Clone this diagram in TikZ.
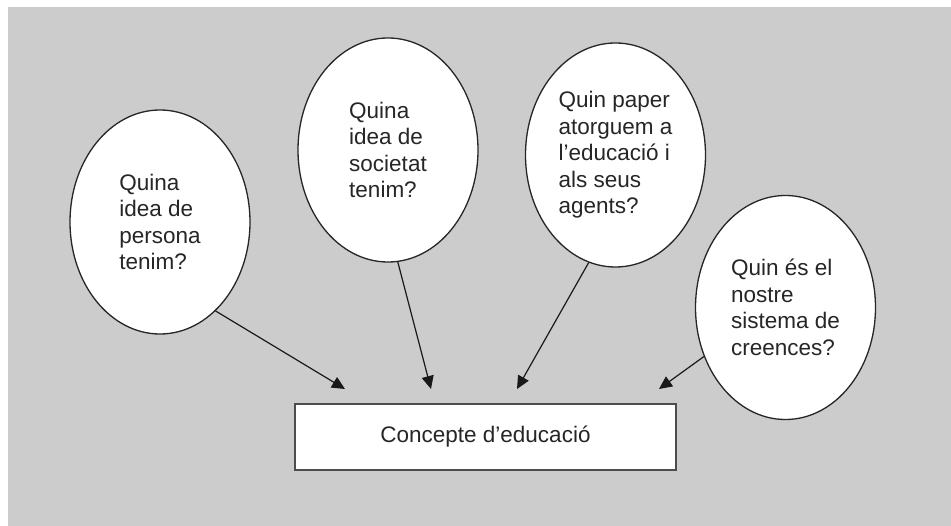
\documentclass[tikz,border=0pt]{standalone}
\usepackage{fontspec}
\setmainfont{Liberation Sans}
\usetikzlibrary{shapes.geometric,arrows.meta}
\colorlet{panel}{black!20}
\colorlet{ink}{black!85}
\tikzset{question/.style={ellipse,draw=black!85,line width=1.3pt,fill=white,minimum width=180pt,minimum height=224pt,inner sep=0pt,align=left,text=ink,font=\fontsize{22.5}{26.5}\selectfont}}
\tikzset{concept/.style={rectangle,draw=black!70,line width=1.5pt,fill=white,minimum width=381pt,minimum height=66pt,inner sep=0pt,text=ink,font=\fontsize{22.5}{26.5}\selectfont}}
\tikzset{feed/.style={-{Triangle[length=13pt,width=12pt]},line width=1.2pt,draw=black!90}}

\begin{document}
\begin{tikzpicture}[x=1pt,y=-1pt]
	    \useasboundingbox (0,0) rectangle (951,526);
	    \fill[white] (0,0) rectangle (951,526);
	    \fill[panel] (8,7) rectangle (951,526);
	    \node[question] (persona) at (160,222) {Quina\\idea de\\persona\\tenim?};
	    \node[question] (societat) at (388,150) {Quina\\idea de\\societat\\tenim?};
	    \node[question] (paper) at (615.5,155) {Quin paper\\atorguem a\\l’educació i\\als seus\\agents?};
	    \node[question] (creences) at (785.5,307.5) {Quin és el\\nostre\\sistema de\\creences?};
	    \node[concept] (concepte) at (485.5,437) {Concepte d’educació};
	    \coordinate (tpersona) at (345,389);
	    \coordinate (tsocietat) at (431,389);
	    \coordinate (tpaper) at (517,389);
	    \coordinate (tcreences) at (659,389);
	    \draw[feed] (persona.-58) -- (tpersona);
	    \draw[feed] (societat.-85) -- (tsocietat);
	    \draw[feed] (paper.-104) -- (tpaper);
	    \draw[feed] (creences.-149) -- (tcreences);
        \end{tikzpicture}
\end{document}
